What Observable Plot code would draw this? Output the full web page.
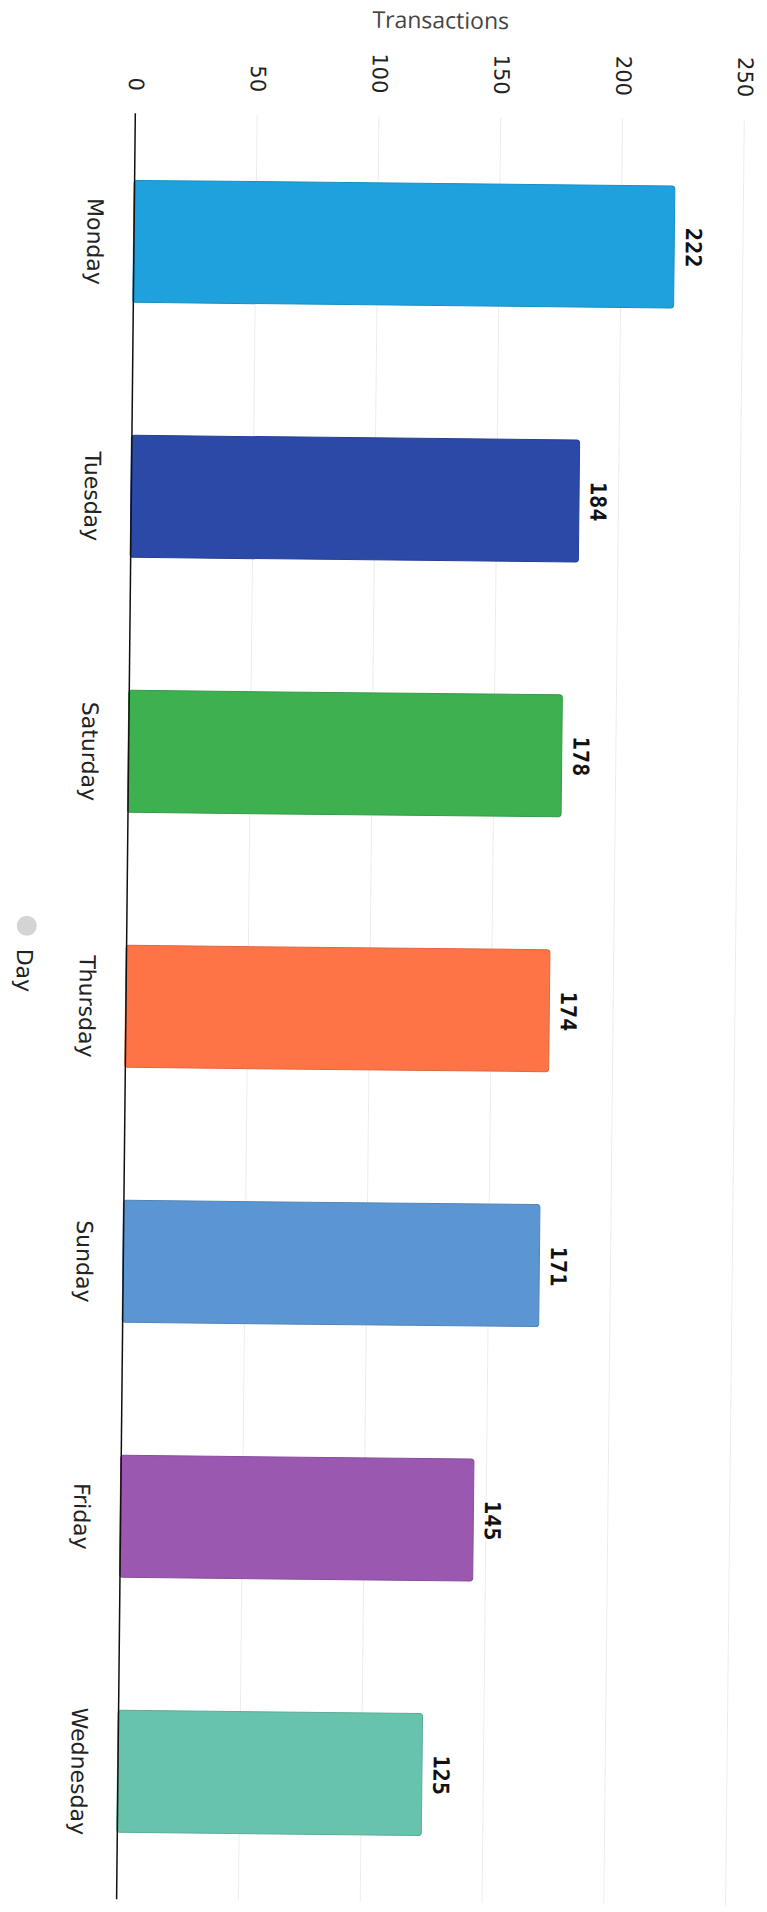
<!DOCTYPE html>
<html>
<head>
<meta charset="utf-8">
<script src="https://cdn.jsdelivr.net/npm/d3@7"></script>
<script src="https://cdn.jsdelivr.net/npm/@observablehq/plot@0.6"></script>
<style>
  html, body { margin: 0; padding: 0; background: #fff; overflow: hidden; }
  #chart svg { display: block; transform: rotate(0.6deg); transform-origin: 50% 50%; }
</style>
</head>
<body>
<div id="chart"></div>
<script>
// ---- data ----
const days = ["Monday", "Tuesday", "Saturday", "Thursday", "Sunday", "Friday", "Wednesday"];
const transactions = [222, 184, 178, 174, 171, 145, 125];
const barColors = ["#1ea1dc", "#2b49a6", "#3db04f", "#ff7446", "#5c96d2", "#9a58b0", "#67c3ac"];
const xTicks = [0, 50, 100, 150, 200, 250];
const xLabel = "Transactions";
const legendLabel = ["Day"];

const rows = days.map((d, i) => ({day: d, value: transactions[i], color: barColors[i]}));

const chart = Plot.plot({
  width: 767,
  height: 1912,
  marginTop: 116,
  marginBottom: 10,
  marginLeft: 126,
  marginRight: 32,
  style: {fontFamily: "DejaVu Sans", color: "#222", background: "#fff"},
  x: {domain: [0, 250]},
  y: {domain: days, paddingInner: 0.52, paddingOuter: 0.26},
  color: {type: "identity"},
  marks: [
    Plot.gridX(xTicks.slice(1), {stroke: "#ececec", strokeOpacity: 1}),
    Plot.barX(rows, {
      x: "value", y: "day", fill: "color",
      stroke: d => d3.color(d.color).darker(0.35).formatHex(),
      strokeWidth: 1, rx: 3
    }),
    Plot.ruleX([0], {stroke: "#111", strokeWidth: 1.5}),
    Plot.axisX(xTicks, {
      anchor: "top", tickSize: 0, tickPadding: 23, tickRotate: 90,
      fontSize: 21, fill: "#222", label: null
    }),
    Plot.axisX({
      anchor: "top", ticks: [], tickSize: 0, label: xLabel, labelAnchor: "center",
      labelArrow: "none", labelOffset: 105, fontFamily: "Open Sans", fontSize: 23, fill: "#444"
    }),
    Plot.axisY({
      anchor: "left", tickSize: 0, tickPadding: 31, tickRotate: 90,
      fontSize: 22, fill: "#222", label: null
    }),
    Plot.text(rows, {
      x: "value", y: "day", text: d => String(d.value),
      rotate: 90, textAnchor: "middle", lineAnchor: "bottom", dx: 11,
      fontFamily: "DejaVu Sans Mono", fontWeight: "bold", fontSize: 22, fill: "#111"
    }),
    Plot.dot(legendLabel, {frameAnchor: "left", dx: -100, dy: -80, r: 10, fill: "#d4d4d4", stroke: "none"}),
    Plot.text(legendLabel, {
      frameAnchor: "left", dx: -94, dy: -57, text: d => d, rotate: 90,
      textAnchor: "start", lineAnchor: "top", fontSize: 22, fill: "#222"
    })
  ]
});

document.getElementById("chart").appendChild(chart);
</script>
</body>
</html>
